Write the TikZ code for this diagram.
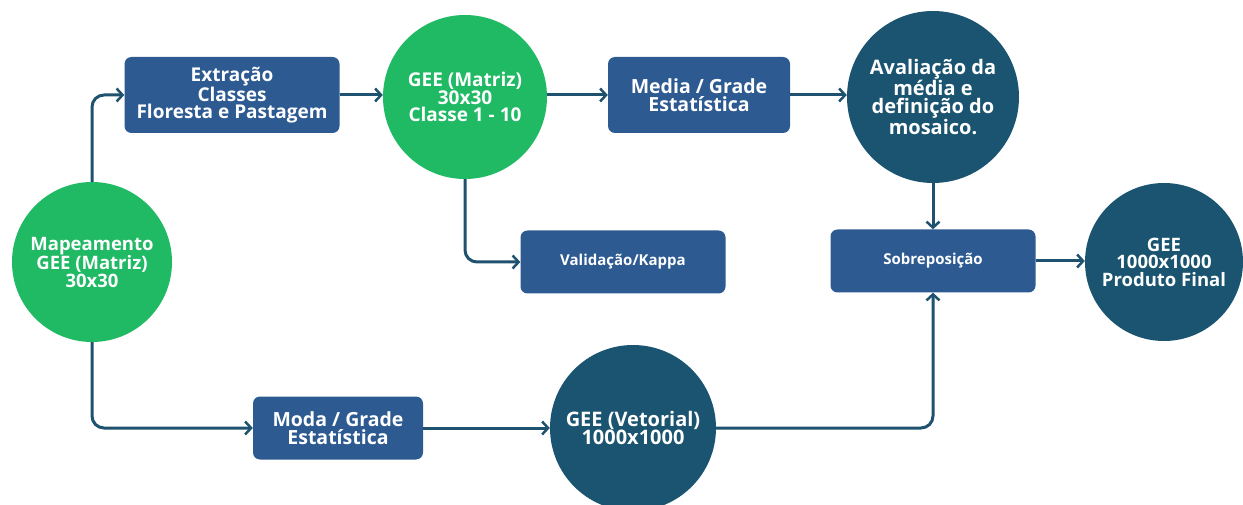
\documentclass[tikz,border=0pt]{standalone}
\usepackage{fontspec}
\setmainfont{Open Sans}
\usetikzlibrary{arrows.meta}
\definecolor{cgreen}{RGB}{32,185,100}
\definecolor{cdark}{RGB}{26,84,112}
\definecolor{cbox}{RGB}{46,90,146}
\definecolor{carrow}{RGB}{30,82,110}
\tikzset{
  gcirc/.style={circle,fill=cgreen,text=white,font=\bfseries\fontsize{18.5}{17.5}\selectfont,align=center,inner sep=0pt},
  dcirc/.style={circle,fill=cdark,text=white,font=\bfseries\fontsize{20}{18.5}\selectfont,align=center,inner sep=0pt},
  bbox/.style={rounded corners=7pt,fill=cbox,text=white,font=\bfseries\fontsize{19}{17.5}\selectfont,align=center,inner sep=0pt},
  smallbox/.style={bbox,minimum width=205pt,minimum height=63pt,font=\bfseries\fontsize{15}{15}\selectfont},
  conn/.style={draw=carrow,line width=3pt,rounded corners=12pt,-{Straight Barb[length=6pt,width=13pt,line width=2.5pt]}},
}
\begin{document}
\begin{tikzpicture}[x=1pt,y=-1pt]
\useasboundingbox (0,0) rectangle (1243,505);
\node[gcirc,minimum size=160pt] (map) at (92,262) {Mapeamento\\GEE (Matriz)\\30x30};
\node[bbox,minimum width=215pt,minimum height=76pt] (ext) at (232,95) {Extração\\Classes\\Floresta e Pastagem};
\node[gcirc,minimum size=164pt,font=\bfseries\fontsize{19}{17.5}\selectfont] (gm) at (465,97) {GEE (Matriz)\\30x30\\Classe 1 - 10};
\node[bbox,minimum width=182pt,minimum height=76pt,font=\bfseries\fontsize{19.5}{17.5}\selectfont] (med) at (699,95) {Media / Grade\\Estatística};
\node[dcirc,minimum size=172pt] (aval) at (933,97) {Avaliação da\\média e\\definição do\\mosaico.};
\node[smallbox] (val) at (623,262) {Validação/Kappa};
\node[smallbox] (sob) at (933,261) {Sobreposição};
\node[dcirc,minimum size=158pt,font=\bfseries\fontsize{18.5}{17.5}\selectfont] (fin) at (1164,262) {GEE\\1000x1000\\Produto Final};
\node[bbox,minimum width=170pt,minimum height=63pt,font=\bfseries\fontsize{19.5}{17.5}\selectfont] (moda) at (338,428) {Moda / Grade\\Estatística};
\node[dcirc,minimum size=166pt] (vet) at (633,428) {GEE (Vetorial)\\1000x1000};
\draw[conn] (map.north) |- (ext.west);
\draw[conn] (ext.east) -- (gm.west |- ext.east);
\draw[conn] (gm.east |- med.west) -- (med.west);
\draw[conn] (med.east) -- (aval.west |- med.east);
\draw[conn] (aval.south) -- (sob.north);
\draw[conn] (gm.south) |- (val.west);
\draw[conn] (sob.east) -- (fin.west |- sob.east);
\draw[conn] (map.south) |- (moda.west);
\draw[conn] (moda.east) -- (vet.west);
\draw[conn] (vet.east) -| (sob.south);
\end{tikzpicture}
\end{document}
